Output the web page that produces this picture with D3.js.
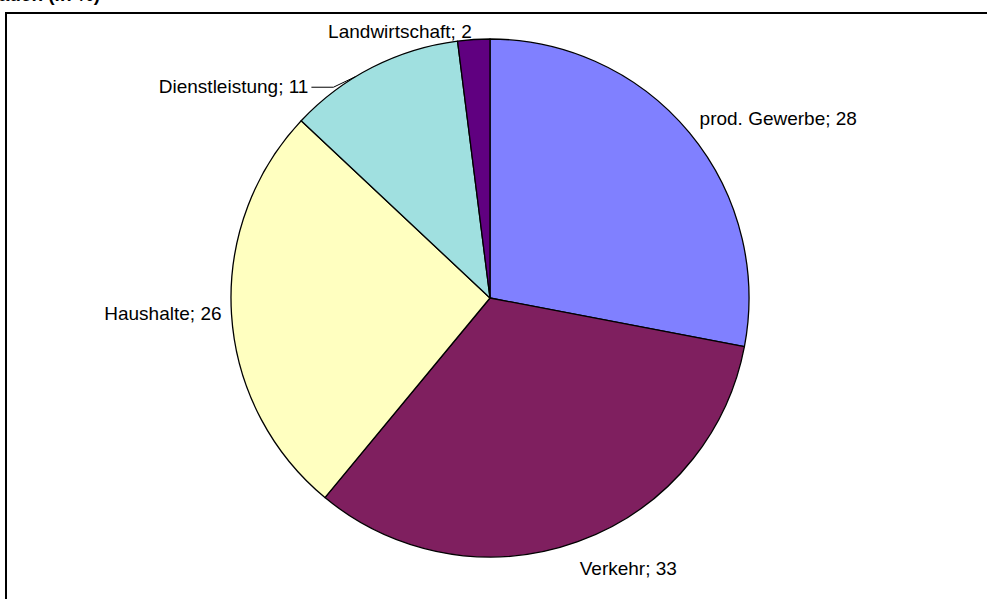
<!DOCTYPE html>
<html>
<head>
<meta charset="utf-8">
<script src="https://cdn.jsdelivr.net/npm/d3@7"></script>
<style>
html,body{margin:0;padding:0;background:#fff;overflow:hidden;}
svg{display:block;}
</style>
</head>
<body>
<svg id="chart" width="987" height="599"></svg>
<script>
// Data
const categories = ["prod. Gewerbe", "Verkehr", "Haushalte", "Dienstleistung", "Landwirtschaft"];
const values = [28, 33, 26, 11, 2];
const colors = ["#8080FF", "#7F1F5F", "#FFFFC0", "#A0E0E0", "#600080"];
const titleText = "Endenergieverbrauch (in %)";

// Layout (label nudges relative to slice edge midpoint)
const labelNudge = [[10, -8, "start"], [2, 33, "start"], [-10, 6, "end"], [-64, 26, "end"], [-2, -1.5, "end"]];

const svg = d3.select("#chart");
const W = 987, H = 599;
const cx = 490, cy = 298, r = 259;
const FONT = "Liberation Sans, Arial, sans-serif";

// cut-off title
svg.append("text").attr("x", 100).attr("y", 0.5).attr("text-anchor", "end")
  .attr("font-family", FONT).attr("font-weight", "bold")
  .attr("font-size", 19).text(titleText);

// frame
svg.append("rect").attr("x", 6).attr("y", 13).attr("width", W + 10).attr("height", H + 10)
  .attr("fill", "#fff").attr("stroke", "#000").attr("stroke-width", 2);

const data = categories.map((c, i) => ({ cat: c, value: values[i], color: colors[i] }));
const pie = d3.pie().value(d => d.value).sort(null);
const arcs = pie(data);
const arc = d3.arc().innerRadius(0).outerRadius(r);

const g = svg.append("g").attr("transform", `translate(${cx},${cy})`);
g.selectAll("path").data(arcs).join("path")
  .attr("d", arc).attr("fill", d => d.data.color)
  .attr("stroke", "#000").attr("stroke-width", 1.3).attr("stroke-linejoin", "round");

// labels
arcs.forEach((a, i) => {
  const mid = (a.startAngle + a.endAngle) / 2;
  const ex = r * Math.sin(mid), ey = -r * Math.cos(mid);
  const [dx, dy, anchor] = labelNudge[i];
  g.append("text").attr("x", ex + dx).attr("y", ey + dy).attr("text-anchor", anchor)
    .attr("font-family", FONT).attr("font-size", 19)
    .attr("fill", "#000").text(`${a.data.cat}; ${a.data.value}`);
  if (a.data.cat === "Dienstleistung") {
    // leader line: horizontal stub then to pie edge
    const lx = ex + dx + 3, ly = ey + dy - 6;
    const px = lx + 44;
    const py = -Math.sqrt(r * r - px * px);
    g.append("path").attr("d", `M${lx},${ly}H${lx + 22}L${px},${py}`)
      .attr("fill", "none").attr("stroke", "#000").attr("stroke-width", 1);
  }
});
</script>
</body>
</html>
